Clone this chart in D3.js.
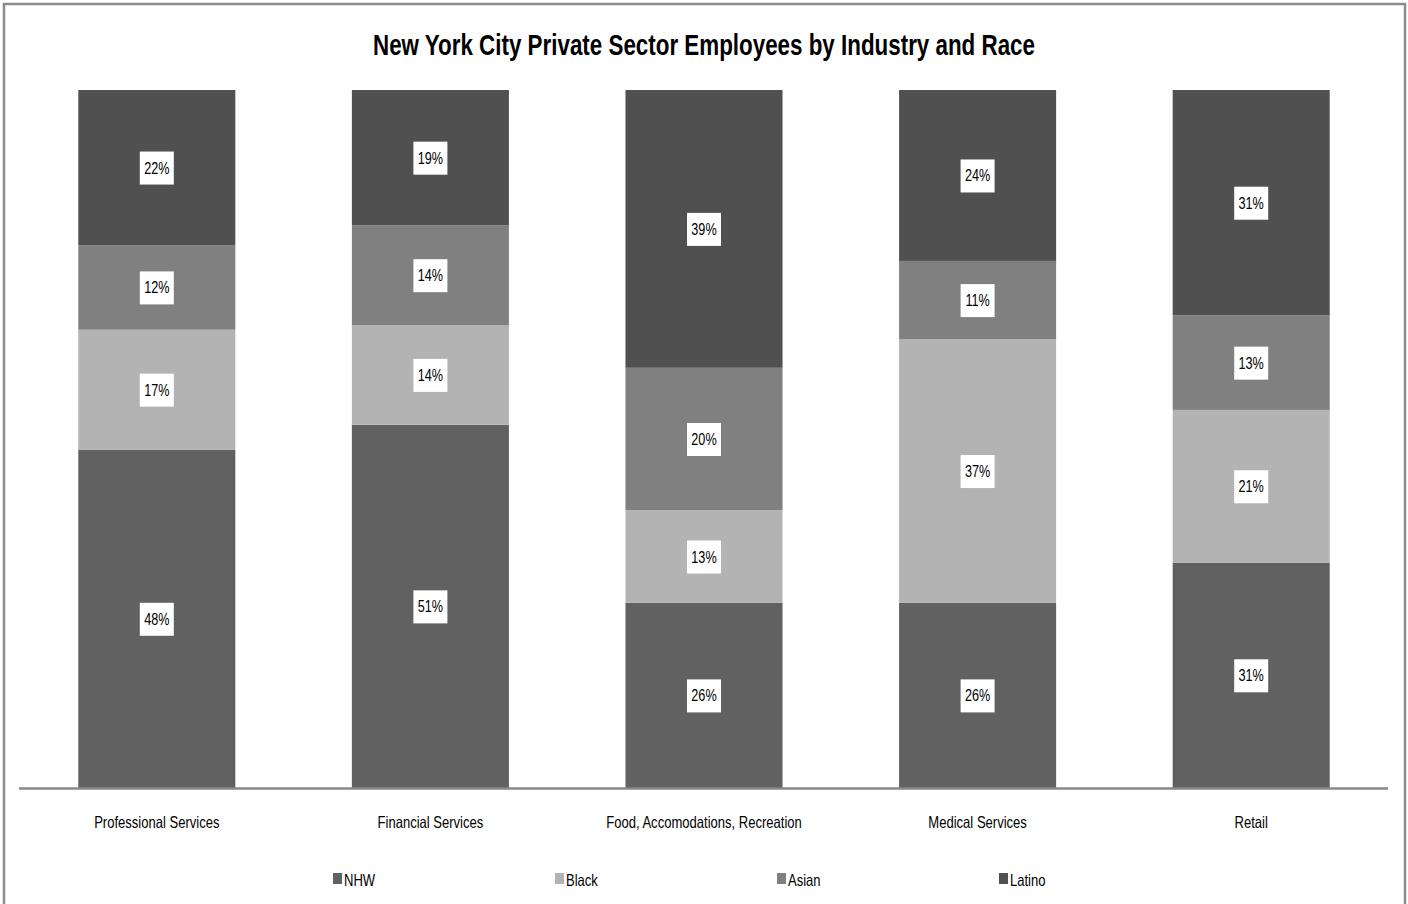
<!DOCTYPE html>
<html>
<head>
<meta charset="utf-8">
<script src="https://cdn.jsdelivr.net/npm/d3@7"></script>
<style>
  body { margin: 0; background: #fff; }
  svg text { font-family: "Liberation Sans", Arial, sans-serif; }
</style>
</head>
<body>
<div id="chart"></div>
<script>
const industries = ['Professional Services', 'Financial Services', 'Food, Accomodations, Recreation', 'Medical Services', 'Retail'];
const races = ['NHW', 'Black', 'Asian', 'Latino'];
const nhw    = [48, 51, 26, 26, 31];
const black  = [17, 14, 13, 37, 21];
const asian  = [12, 14, 20, 11, 13];
const latino = [22, 19, 39, 24, 31];
const colors = { NHW: '#616161', Black: '#b3b3b3', Asian: '#808080', Latino: '#505050' };

const W = 1408, H = 904;
const margin = { top: 90, right: 20, bottom: 116, left: 20 };

const data = industries.map((name, i) => ({
  name, NHW: nhw[i], Black: black[i], Asian: asian[i], Latino: latino[i]
}));

// squeeze text horizontally to mimic the narrow Calibri look
function squeeze(sel, factor) {
  sel.each(function() {
    const w = this.getComputedTextLength();
    d3.select(this).attr('textLength', w * factor).attr('lengthAdjust', 'spacingAndGlyphs');
  });
}

const svg = d3.select('#chart').append('svg')
  .attr('width', W).attr('height', H);

// outer frame
svg.append('rect')
  .attr('x', 4).attr('y', 4)
  .attr('width', W - 7).attr('height', H + 10)
  .attr('fill', 'none').attr('stroke', '#8c8c8c').attr('stroke-width', 2.5);

const title = svg.append('text')
  .attr('x', 704).attr('y', 55)
  .attr('text-anchor', 'middle')
  .style('font-size', '30px').style('font-weight', 'bold')
  .text('New York City Private Sector Employees by Industry and Race');
title.attr('textLength', 662).attr('lengthAdjust', 'spacingAndGlyphs');

const x = d3.scaleBand()
  .domain(industries)
  .range([margin.left, W - margin.right])
  .paddingInner(0.426)
  .paddingOuter(0.213);

const y = d3.scaleLinear()
  .domain([0, 1])
  .range([H - margin.bottom, margin.top]);

const stack = d3.stack().keys(races).offset(d3.stackOffsetExpand);
const series = stack(data);

const layers = svg.append('g').selectAll('g')
  .data(series).enter()
  .append('g')
  .attr('fill', d => colors[d.key]);

layers.selectAll('rect')
  .data(d => d).enter()
  .append('rect')
  .attr('x', d => x(d.data.name))
  .attr('y', d => y(d[1]))
  .attr('width', x.bandwidth())
  .attr('height', d => y(d[0]) - y(d[1]));

// value labels
const labels = svg.append('g');
series.forEach(s => {
  s.forEach(d => {
    const cx = x(d.data.name) + x.bandwidth() / 2;
    const cy = (y(d[0]) + y(d[1])) / 2;
    labels.append('rect')
      .attr('x', cx - 17).attr('y', cy - 16)
      .attr('width', 34).attr('height', 33)
      .attr('fill', '#fff');
    labels.append('text')
      .attr('x', cx).attr('y', cy + 6)
      .attr('text-anchor', 'middle')
      .style('font-size', '16px').attr('fill', '#000')
      .text(d.data[s.key] + '%');
  });
});
squeeze(labels.selectAll('text'), 0.79);

// x axis
const xAxis = svg.append('g')
  .attr('transform', `translate(0,${H - margin.bottom})`)
  .call(d3.axisBottom(x).tickSize(0).tickPadding(28));
xAxis.select('.domain')
  .attr('stroke', '#888').attr('stroke-width', 2.5)
  .attr('d', `M${margin.left - 1},0.5H${W - margin.right}`);
xAxis.selectAll('text')
  .style('font-size', '16.5px').attr('fill', '#000')
  .style('font-family', '"Liberation Sans", Arial, sans-serif');
squeeze(xAxis.selectAll('text'), 0.79);

// legend
const legend = svg.append('g').attr('transform', 'translate(333,880)');
races.forEach((r, i) => {
  const g = legend.append('g').attr('transform', `translate(${i * 222},0)`);
  g.append('rect')
    .attr('x', 0).attr('y', -7)
    .attr('width', 9).attr('height', 11)
    .attr('fill', colors[r]);
  g.append('text')
    .attr('x', 11).attr('y', 6)
    .style('font-size', '16.5px').attr('fill', '#000')
    .text(r);
});
squeeze(legend.selectAll('text'), 0.79);
</script>
</body>
</html>
